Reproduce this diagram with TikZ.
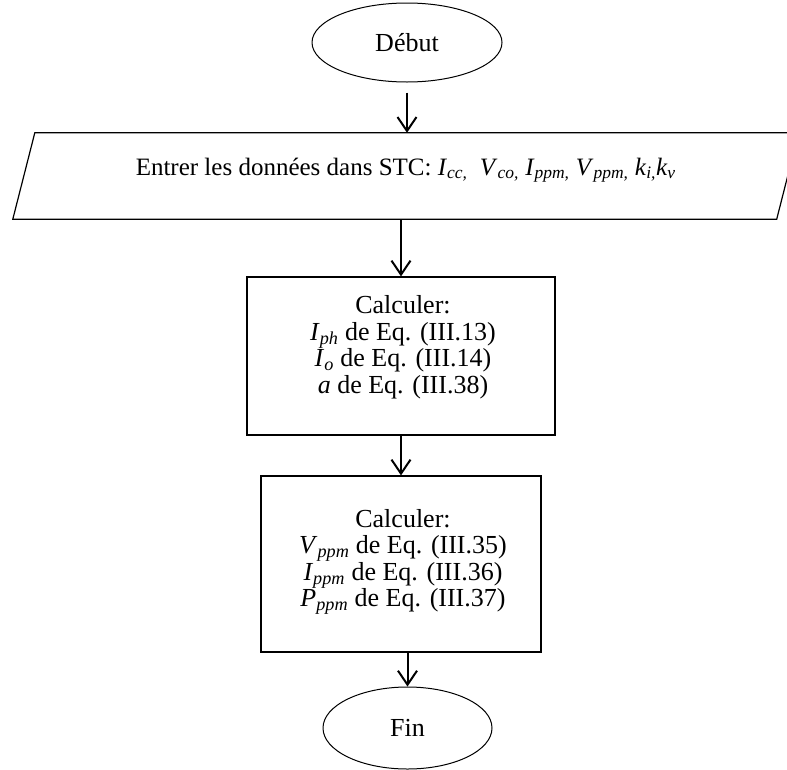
\documentclass[tikz,border=0pt]{standalone}
\usepackage{fontspec}
\setmainfont{Liberation Serif}
\usetikzlibrary{shapes.geometric,arrows.meta}

% italic quantity with italic subscript
\newcommand{\vsub}[2]{\textit{#1}\textsubscript{\textit{#2}}}

\begin{document}
\begin{tikzpicture}[x=1pt,y=-1pt,
  every node/.style={font=\fontsize{26}{26.5}\selectfont, inner sep=0pt},
  term/.style={ellipse, draw, line width=1pt},
  procbox/.style={rectangle, draw, line width=1.2pt},
  frame/.style={line width=1.2pt, line join=miter},
  arr/.style={line width=2pt, -{Straight Barb[length=14pt, width=19pt, line width=2pt]}},
  bodytext/.style={align=center}]

\useasboundingbox (0,0) rectangle (787,769);
\clip (0,0) rectangle (787,769);

% terminals
\node[term, minimum width=190pt, minimum height=79pt] (debut) at (407,42.5) {Début};
\node[term, minimum width=169pt, minimum height=82pt] (fin) at (407.5,728) {Fin};

% input (parallelogram drawn from the node's corners)
\node[font=\fontsize{25}{26.5}\selectfont, minimum width=763.5pt, minimum height=86pt,
      text height=12pt, text depth=14pt]
  (input) at (405.75,176)
  {Entrer les données dans STC: \vsub{I}{cc,}\ \ \vsub{V}{co,} \vsub{I}{ppm,} \vsub{V}{ppm,} \vsub{k}{i,}\vsub{k}{v}};
\draw[frame] ([xshift=11pt]input.north west) -- ([xshift=11pt]input.north east)
  -- ([xshift=-11pt]input.south east) -- ([xshift=-11pt]input.south west) -- cycle;

% processing steps
\node[procbox, minimum width=308pt, minimum height=158pt] (calc1) at (401,356) {};
\node[bodytext] (calc1txt) at (403,347)
  {Calculer:\\ \vsub{I}{ph} de Eq. (III.13)\\ \vsub{I}{o} de Eq. (III.14)\\ \textit{a} de Eq. (III.38)};

\node[procbox, minimum width=280pt, minimum height=176pt] (calc2) at (401,564) {};
\node[bodytext] (calc2txt) at (403,562)
  {Calculer:\\ \vsub{V}{ppm} de Eq. (III.35)\\ \vsub{I}{ppm} de Eq. (III.36)\\ \vsub{P}{ppm} de Eq. (III.37)};

% flow
\draw[arr] ([yshift=-10pt]debut.south) -- (debut.south |- input.north);
\draw[arr] (input.south -| calc1.north) -- (calc1.north);
\draw[arr] (calc1.south) -- (calc2.north);
\draw[arr] (calc2.south -| fin.north) -- (fin.north);
\end{tikzpicture}
\end{document}
